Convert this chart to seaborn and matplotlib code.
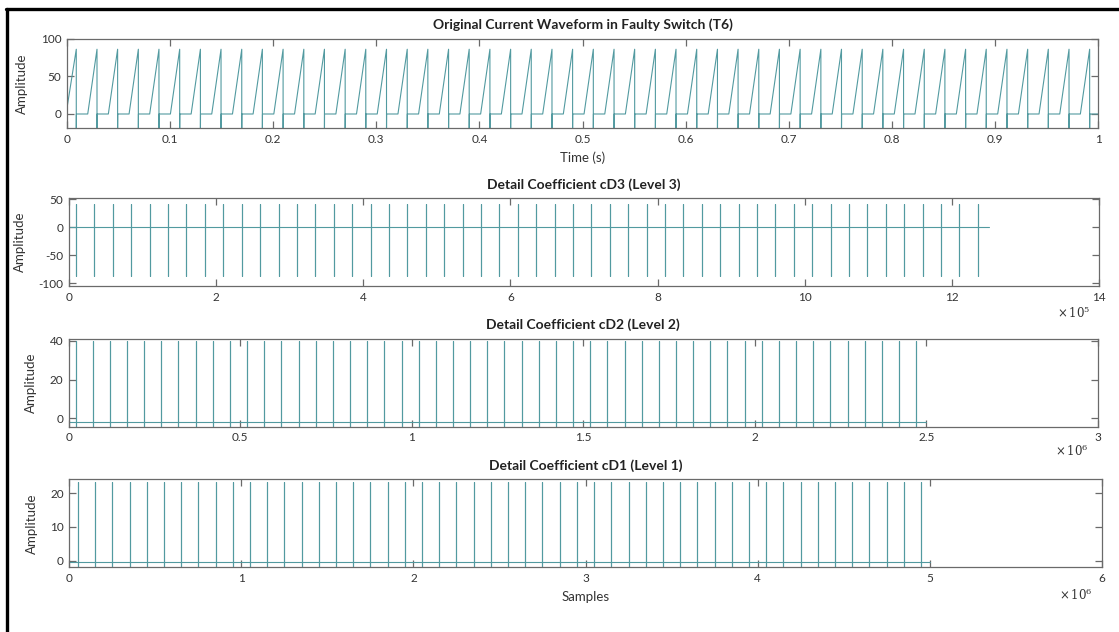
import numpy as np
import pandas as pd
import matplotlib
matplotlib.use("Agg")
import matplotlib.pyplot as plt
from matplotlib.ticker import FuncFormatter, FixedLocator
from matplotlib.lines import Line2D
import seaborn as sns

# ---------------- data ----------------
# Panel 1: time of each switching-current peak (s)
peak_times = [0.0090, 0.0291, 0.0491, 0.0692, 0.0892, 0.1093, 0.1294, 0.1494, 0.1695, 0.1895,
              0.2096, 0.2297, 0.2497, 0.2698, 0.2898, 0.3099, 0.3300, 0.3500, 0.3701, 0.3901,
              0.4102, 0.4303, 0.4503, 0.4704, 0.4904, 0.5105, 0.5306, 0.5506, 0.5707, 0.5907,
              0.6108, 0.6309, 0.6509, 0.6710, 0.6910, 0.7111, 0.7312, 0.7512, 0.7713, 0.7913,
              0.8114, 0.8315, 0.8515, 0.8716, 0.8916, 0.9117, 0.9318, 0.9518, 0.9719, 0.9919]
ramp_duration = 0.0090      # s, rise from 0 to peak
peak_amplitude = 86.0
drop_amplitude = -25.0
start_amplitude = 8.0
time_end = 1.0

# Detail coefficient spike locations (kilo-samples)
cd3_spikes_k = [10, 35, 60, 85, 110, 135, 160, 185, 210, 235, 260, 285, 310, 335, 360, 385,
                410, 435, 460, 485, 510, 535, 560, 585, 610, 635, 660, 685, 710, 735, 760, 785,
                810, 835, 860, 885, 910, 935, 960, 985, 1010, 1035, 1060, 1085, 1110, 1135,
                1160, 1185, 1210, 1235]
cd2_spikes_k = [20, 70, 120, 170, 220, 270, 320, 370, 420, 470, 520, 570, 620, 670, 720, 770,
                820, 870, 920, 970, 1020, 1070, 1120, 1170, 1220, 1270, 1320, 1370, 1420, 1470,
                1520, 1570, 1620, 1670, 1720, 1770, 1820, 1870, 1920, 1970, 2020, 2070, 2120,
                2170, 2220, 2270, 2320, 2370, 2420, 2470]
cd1_spikes_k = [50, 150, 250, 350, 450, 550, 650, 750, 850, 950, 1050, 1150, 1250, 1350, 1450,
                1550, 1650, 1750, 1850, 1950, 2050, 2150, 2250, 2350, 2450, 2550, 2650, 2750,
                2850, 2950, 3050, 3150, 3250, 3350, 3450, 3550, 3650, 3750, 3850, 3950, 4050,
                4150, 4250, 4350, 4450, 4550, 4650, 4750, 4850, 4950]
cd3_len, cd2_len, cd1_len = 1_250_000, 2_500_000, 5_000_000
cd3_base, cd3_top, cd3_bottom = 0.0, 41.0, -87.0
cd2_base, cd2_top, cd2_bottom = -1.9, 40.0, -6.0
cd1_base, cd1_top, cd1_bottom = -0.3, 23.5, -3.0

titles = ["Original Current Waveform in Faulty Switch (T6)",
          "Detail Coefficient cD3 (Level 3)",
          "Detail Coefficient cD2 (Level 2)",
          "Detail Coefficient cD1 (Level 1)"]

# ---------------- build series ----------------
wx, wy = [0.0], [start_amplitude]
for k, p in enumerate(peak_times):
    if k > 0:
        wx.append(p - ramp_duration); wy.append(0.0)
    wx += [p, p, p + 0.0001]
    wy += [peak_amplitude, drop_amplitude, 0.0]
wx.append(time_end); wy.append(0.0)
wave_df = pd.DataFrame({"t": wx, "y": wy})


def spike_df(spikes_k, base, top, bottom, length):
    xs, ys = [0.0], [base]
    for s in spikes_k:
        x = s * 1000.0
        xs += [x, x, x, x]
        ys += [base, top, bottom, base]
    xs.append(length); ys.append(base)
    return pd.DataFrame({"n": xs, "y": ys})


cd3_df = spike_df(cd3_spikes_k, cd3_base, cd3_top, cd3_bottom, cd3_len)
cd2_df = spike_df(cd2_spikes_k, cd2_base, cd2_top, cd2_bottom, cd2_len)
cd1_df = spike_df(cd1_spikes_k, cd1_base, cd1_top, cd1_bottom, cd1_len)

# ---------------- plotting ----------------
sns.set_theme(style="white")
plt.rcParams['font.family'] = ['Lato', 'DejaVu Sans']
plt.rcParams['mathtext.fontset'] = 'dejavuserif'
plt.rcParams['axes.unicode_minus'] = False

W, H = 1119, 632
fig = plt.figure(figsize=(W / 100, H / 100), dpi=100)
fig.patch.set_facecolor("white")

line_color = "#529aa0"
spine_color = "#6a6a6a"
text_color = "#333333"


def px_axes(left, top, right, bottom):
    return fig.add_axes([left / W, 1 - bottom / H, (right - left) / W, (bottom - top) / H])


ax1 = px_axes(67, 38.7, 1098, 128)
ax2 = px_axes(68.7, 198.3, 1099.3, 286)
ax3 = px_axes(68.7, 339, 1098, 426.7)
ax4 = px_axes(69.3, 479.3, 1101.7, 567.3)

for ax, df, xcol in [(ax1, wave_df, "t"), (ax2, cd3_df, "n"), (ax3, cd2_df, "n"), (ax4, cd1_df, "n")]:
    sns.lineplot(data=df, x=xcol, y="y", ax=ax, sort=False, estimator=None,
                 color=line_color, lw=0.8)

ax1.set_xlim(0, 1); ax1.set_ylim(-18.6, 100)
ax1.xaxis.set_major_locator(FixedLocator([0, 0.1, 0.2, 0.3, 0.4, 0.5, 0.6, 0.7, 0.8, 0.9, 1.0]))
ax1.xaxis.set_major_formatter(FuncFormatter(lambda v, p: f"{v:g}"))
ax1.set_yticks([0, 50, 100])

ax2.set_xlim(0, 1_400_000); ax2.set_ylim(-104.8, 51.8)
ax2.set_xticks([i * 200_000 for i in range(8)])
ax2.xaxis.set_major_formatter(FuncFormatter(lambda v, p: f"{v / 1e5:g}"))
ax2.set_yticks([-100, -50, 0, 50])

ax3.set_xlim(0, 3_000_000); ax3.set_ylim(-4.4, 41)
ax3.set_xticks([i * 500_000 for i in range(7)])
ax3.xaxis.set_major_formatter(FuncFormatter(lambda v, p: f"{v / 1e6:g}"))
ax3.set_yticks([0, 20, 40])

ax4.set_xlim(0, 6_000_000); ax4.set_ylim(-2.0, 24.2)
ax4.set_xticks([i * 1_000_000 for i in range(7)])
ax4.xaxis.set_major_formatter(FuncFormatter(lambda v, p: f"{v / 1e6:g}"))
ax4.set_yticks([0, 10, 20])

for ax, title in zip([ax1, ax2, ax3, ax4], titles):
    ax.set_title(title, fontsize=10, fontweight="bold", color="#222222", pad=7)
    ax.set_ylabel("Amplitude", fontsize=9.5, color=text_color, labelpad=9)
    ax.set_xlabel("")
    for s in ax.spines.values():
        s.set_visible(True)
        s.set_color(spine_color)
        s.set_linewidth(0.9)
    ax.tick_params(direction="in", length=5, width=0.9, color=spine_color,
                   labelsize=8.5, labelcolor=text_color, top=True, right=True,
                   bottom=True, left=True, pad=4)
    ax.set_facecolor("white")

ax1.set_xlabel("Time (s)", fontsize=9.5, color=text_color, labelpad=5)
ax4.set_xlabel("Samples", fontsize=9.5, color=text_color, labelpad=5)

# exponent annotations (placed left of / below the last tick label)
for ax, txt, yoff in [(ax2, r"$\times\,10^{5}$", -0.30), (ax3, r"$\times\,10^{6}$", -0.27),
                      (ax4, r"$\times\,10^{6}$", -0.30)]:
    ax.text(0.991, yoff, txt, transform=ax.transAxes, ha="right", va="center",
            fontsize=8.5, color=text_color)

# screenshot frame
fig.add_artist(Line2D([6 / W, 1.0], [1 - 9 / H, 1 - 9 / H], color="black", lw=2.4,
                      transform=fig.transFigure))
fig.add_artist(Line2D([6.5 / W, 6.5 / W], [0.0, 1 - 9 / H], color="black", lw=2.4,
                      transform=fig.transFigure))

fig.savefig("out.png", dpi=100, facecolor="white")
